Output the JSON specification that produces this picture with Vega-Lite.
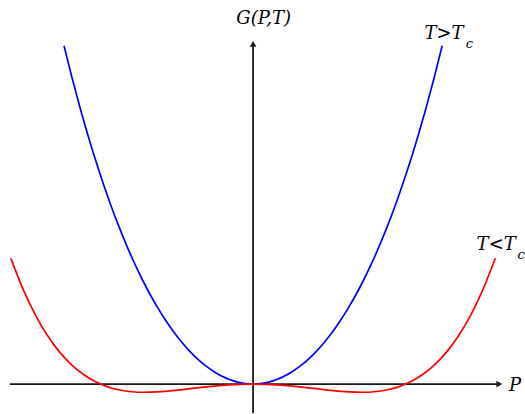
{
  "$schema": "https://vega.github.io/schema/vega-lite/v6.json",
  "width": 525,
  "height": 414,
  "autosize": {"type": "fit", "contains": "padding"},
  "padding": 0,
  "background": "white",
  "config": {"view": {"stroke": null}},
  "datasets": {
    "curves": [
      {"P": -1.92, "G": 3.3918, "phase": "above"}, {"P": -1.84, "G": 3.0763, "phase": "above"},
      {"P": -1.76, "G": 2.7807, "phase": "above"}, {"P": -1.68, "G": 2.5042, "phase": "above"},
      {"P": -1.6, "G": 2.2458, "phase": "above"}, {"P": -1.52, "G": 2.005, "phase": "above"},
      {"P": -1.44, "G": 1.7808, "phase": "above"}, {"P": -1.36, "G": 1.5727, "phase": "above"},
      {"P": -1.28, "G": 1.38, "phase": "above"}, {"P": -1.2, "G": 1.202, "phase": "above"},
      {"P": -1.12, "G": 1.0382, "phase": "above"}, {"P": -1.04, "G": 0.8881, "phase": "above"},
      {"P": -0.96, "G": 0.7511, "phase": "above"}, {"P": -0.88, "G": 0.6268, "phase": "above"},
      {"P": -0.8, "G": 0.5148, "phase": "above"}, {"P": -0.72, "G": 0.4146, "phase": "above"},
      {"P": -0.64, "G": 0.3259, "phase": "above"}, {"P": -0.56, "G": 0.2483, "phase": "above"},
      {"P": -0.48, "G": 0.1817, "phase": "above"}, {"P": -0.4, "G": 0.1258, "phase": "above"},
      {"P": -0.32, "G": 0.0803, "phase": "above"}, {"P": -0.24, "G": 0.0451, "phase": "above"},
      {"P": -0.16, "G": 0.02, "phase": "above"}, {"P": -0.08, "G": 0.005, "phase": "above"},
      {"P": 0, "G": 0, "phase": "above"},
      {"P": 0.08, "G": 0.005, "phase": "above"}, {"P": 0.16, "G": 0.02, "phase": "above"},
      {"P": 0.24, "G": 0.0451, "phase": "above"}, {"P": 0.32, "G": 0.0803, "phase": "above"},
      {"P": 0.4, "G": 0.1258, "phase": "above"}, {"P": 0.48, "G": 0.1817, "phase": "above"},
      {"P": 0.56, "G": 0.2483, "phase": "above"}, {"P": 0.64, "G": 0.3259, "phase": "above"},
      {"P": 0.72, "G": 0.4146, "phase": "above"}, {"P": 0.8, "G": 0.5148, "phase": "above"},
      {"P": 0.88, "G": 0.6268, "phase": "above"}, {"P": 0.96, "G": 0.7511, "phase": "above"},
      {"P": 1.04, "G": 0.8881, "phase": "above"}, {"P": 1.12, "G": 1.0382, "phase": "above"},
      {"P": 1.2, "G": 1.202, "phase": "above"}, {"P": 1.28, "G": 1.38, "phase": "above"},
      {"P": 1.36, "G": 1.5727, "phase": "above"}, {"P": 1.44, "G": 1.7808, "phase": "above"},
      {"P": 1.52, "G": 2.005, "phase": "above"}, {"P": 1.6, "G": 2.2458, "phase": "above"},
      {"P": 1.68, "G": 2.5042, "phase": "above"}, {"P": 1.76, "G": 2.7807, "phase": "above"},
      {"P": 1.84, "G": 3.0763, "phase": "above"}, {"P": 1.92, "G": 3.3918, "phase": "above"},

      {"P": -2.46, "G": 1.2606, "phase": "below"}, {"P": -2.337, "G": 0.9538, "phase": "below"},
      {"P": -2.214, "G": 0.6995, "phase": "below"}, {"P": -2.091, "G": 0.4918, "phase": "below"},
      {"P": -1.968, "G": 0.3253, "phase": "below"}, {"P": -1.845, "G": 0.1948, "phase": "below"},
      {"P": -1.722, "G": 0.0955, "phase": "below"}, {"P": -1.599, "G": 0.0227, "phase": "below"},
      {"P": -1.476, "G": -0.0277, "phase": "below"}, {"P": -1.353, "G": -0.0596, "phase": "below"},
      {"P": -1.23, "G": -0.0767, "phase": "below"}, {"P": -1.107, "G": -0.0822, "phase": "below"},
      {"P": -0.984, "G": -0.0792, "phase": "below"}, {"P": -0.861, "G": -0.0702, "phase": "below"},
      {"P": -0.738, "G": -0.0577, "phase": "below"}, {"P": -0.615, "G": -0.0437, "phase": "below"},
      {"P": -0.492, "G": -0.0298, "phase": "below"}, {"P": -0.369, "G": -0.0176, "phase": "below"},
      {"P": -0.246, "G": -0.0081, "phase": "below"}, {"P": -0.123, "G": -0.0021, "phase": "below"},
      {"P": 0, "G": 0, "phase": "below"},
      {"P": 0.123, "G": -0.0021, "phase": "below"}, {"P": 0.246, "G": -0.0081, "phase": "below"},
      {"P": 0.369, "G": -0.0176, "phase": "below"}, {"P": 0.492, "G": -0.0298, "phase": "below"},
      {"P": 0.615, "G": -0.0437, "phase": "below"}, {"P": 0.738, "G": -0.0577, "phase": "below"},
      {"P": 0.861, "G": -0.0702, "phase": "below"}, {"P": 0.984, "G": -0.0792, "phase": "below"},
      {"P": 1.107, "G": -0.0822, "phase": "below"}, {"P": 1.23, "G": -0.0767, "phase": "below"},
      {"P": 1.353, "G": -0.0596, "phase": "below"}, {"P": 1.476, "G": -0.0277, "phase": "below"},
      {"P": 1.599, "G": 0.0227, "phase": "below"}, {"P": 1.722, "G": 0.0955, "phase": "below"},
      {"P": 1.845, "G": 0.1948, "phase": "below"}, {"P": 1.968, "G": 0.3253, "phase": "below"},
      {"P": 2.091, "G": 0.4918, "phase": "below"}, {"P": 2.214, "G": 0.6995, "phase": "below"},
      {"P": 2.337, "G": 0.9538, "phase": "below"}, {"P": 2.46, "G": 1.2606, "phase": "below"}
    ],
    "labels": [
      {"P": -0.17, "G": 3.61, "text": "G(P,T)"},
      {"P": 2.27, "G": 1.34, "text": "T<T"},
      {"P": 1.74, "G": 3.46, "text": "T>T"},
      {"P": 2.6, "G": -0.07, "text": "P"}
    ],
    "subscripts": [
      {"P": 2.16, "G": 3.37, "text": "c"},
      {"P": 2.685, "G": 1.25, "text": "c"}
    ],
    "axes": [
      {"P": -2.47, "P2": 2.49, "G": 0, "G2": 0},
      {"P": 0, "P2": 0, "G": -0.29, "G2": 3.4}
    ],
    "arrows": [
      {"P": 2.5, "G": 0, "dir": "right"},
      {"P": 0, "G": 3.41, "dir": "up"}
    ]
  },
  "layer": [
    {
      "data": {"name": "axes"},
      "mark": {"type": "rule", "color": "#1a1a1a", "strokeWidth": 1.8},
      "encoding": {
        "x": {"field": "P", "type": "quantitative", "scale": {"domain": [-2.57, 2.68], "nice": false, "zero": false}, "axis": null},
        "x2": {"field": "P2"},
        "y": {"field": "G", "type": "quantitative", "scale": {"domain": [-0.29, 3.85], "nice": false, "zero": false}, "axis": null},
        "y2": {"field": "G2"}
      }
    },
    {
      "data": {"name": "arrows"},
      "mark": {"type": "point", "filled": true, "color": "#1a1a1a", "size": 45, "opacity": 1},
      "encoding": {
        "x": {"field": "P", "type": "quantitative"},
        "y": {"field": "G", "type": "quantitative"},
        "shape": {
          "field": "dir",
          "type": "nominal",
          "scale": {"domain": ["right", "up"], "range": ["triangle-right", "triangle-up"]},
          "legend": null
        }
      }
    },
    {
      "data": {"name": "curves"},
      "mark": {"type": "line", "strokeWidth": 1.7, "interpolate": "monotone"},
      "encoding": {
        "x": {"field": "P", "type": "quantitative"},
        "y": {"field": "G", "type": "quantitative"},
        "color": {
          "field": "phase",
          "type": "nominal",
          "scale": {"domain": ["above", "below"], "range": ["#0000ff", "#ff0000"]},
          "legend": null
        }
      }
    },
    {
      "data": {"name": "labels"},
      "mark": {"type": "text", "font": "DejaVu Serif", "fontStyle": "italic", "fontSize": 18, "align": "left", "baseline": "alphabetic", "color": "black"},
      "encoding": {
        "x": {"field": "P", "type": "quantitative"},
        "y": {"field": "G", "type": "quantitative"},
        "text": {"field": "text"}
      }
    },
    {
      "data": {"name": "subscripts"},
      "mark": {"type": "text", "font": "DejaVu Serif", "fontStyle": "italic", "fontSize": 13, "align": "left", "baseline": "alphabetic", "color": "black"},
      "encoding": {
        "x": {"field": "P", "type": "quantitative"},
        "y": {"field": "G", "type": "quantitative"},
        "text": {"field": "text"}
      }
    }
  ]
}
